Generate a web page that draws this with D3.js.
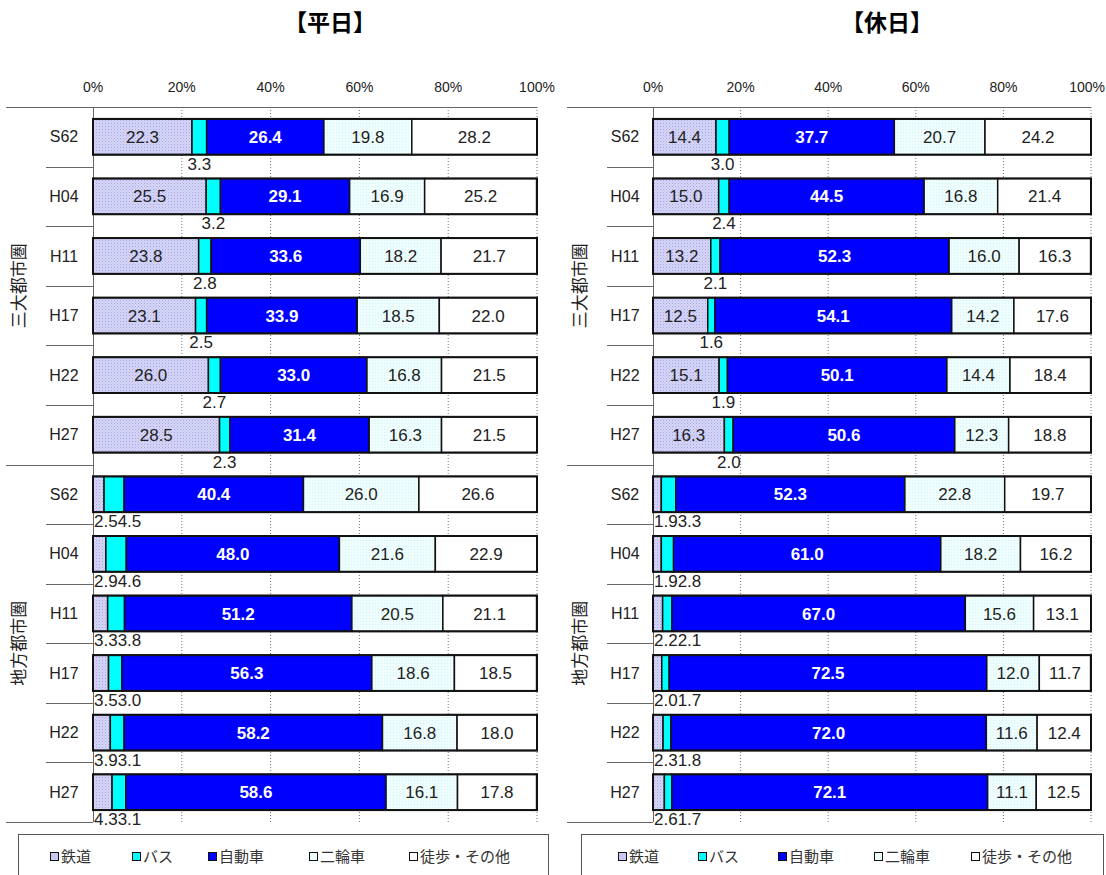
<!DOCTYPE html>
<head>
<meta charset="utf-8">
<title>代表交通手段分担率 平日・休日</title>
<style>
html, body { margin:0; padding:0; background:#fff; }
body { font-family: 'Liberation Sans', Arial, sans-serif; }
.jp { font-family: 'Noto Sans CJK JP', sans-serif; }
.grid { stroke:#777; stroke-dasharray:1,2; }
.rule { stroke:#666; stroke-width:1; }
</style>
</head>
<body>
<svg width="1106" height="875"></svg>
<script src="https://cdn.jsdelivr.net/npm/d3@7"></script>
<script>
var modes   = ["鉄道", "バス", "自動車", "二輪車", "徒歩・その他"];
var years   = ["S62", "H04", "H11", "H17", "H22", "H27"];
var regions = ["三大都市圏", "地方都市圏"];
var ticks   = [0, 20, 40, 60, 80, 100];
var tickLabels = ["0%", "20%", "40%", "60%", "80%", "100%"];
var titles  = ["【平日】", "【休日】"];

// 平日 (weekday) : rail, bus, car, two-wheel, walk/other
var weekdayMetro = [
  [22.3, 3.3, 26.4, 19.8, 28.2],
  [25.5, 3.2, 29.1, 16.9, 25.2],
  [23.8, 2.8, 33.6, 18.2, 21.7],
  [23.1, 2.5, 33.9, 18.5, 22.0],
  [26.0, 2.7, 33.0, 16.8, 21.5],
  [28.5, 2.3, 31.4, 16.3, 21.5]
];
var weekdayLocal = [
  [2.5, 4.5, 40.4, 26.0, 26.6],
  [2.9, 4.6, 48.0, 21.6, 22.9],
  [3.3, 3.8, 51.2, 20.5, 21.1],
  [3.5, 3.0, 56.3, 18.6, 18.5],
  [3.9, 3.1, 58.2, 16.8, 18.0],
  [4.3, 3.1, 58.6, 16.1, 17.8]
];
// 休日 (holiday)
var holidayMetro = [
  [14.4, 3.0, 37.7, 20.7, 24.2],
  [15.0, 2.4, 44.5, 16.8, 21.4],
  [13.2, 2.1, 52.3, 16.0, 16.3],
  [12.5, 1.6, 54.1, 14.2, 17.6],
  [15.1, 1.9, 50.1, 14.4, 18.4],
  [16.3, 2.0, 50.6, 12.3, 18.8]
];
var holidayLocal = [
  [1.9, 3.3, 52.3, 22.8, 19.7],
  [1.9, 2.8, 61.0, 18.2, 16.2],
  [2.2, 2.1, 67.0, 15.6, 13.1],
  [2.0, 1.7, 72.5, 12.0, 11.7],
  [2.3, 1.8, 72.0, 11.6, 12.4],
  [2.6, 1.7, 72.1, 11.1, 12.5]
];

var svg = d3.select("svg");

// fills
var defs = svg.append("defs");
var pr = defs.append("pattern").attr("id", "railPat").attr("width", 3).attr("height", 3)
    .attr("patternUnits", "userSpaceOnUse");
pr.append("rect").attr("width", 3).attr("height", 3).attr("fill", "#d6d6f8");
pr.append("rect").attr("width", 1).attr("height", 1).attr("fill", "#a4a4e4");
pr.append("rect").attr("x", 1.5).attr("y", 1.5).attr("width", 1).attr("height", 1).attr("fill", "#b8b8ec");
var pt = defs.append("pattern").attr("id", "twoPat").attr("width", 3).attr("height", 3)
    .attr("patternUnits", "userSpaceOnUse");
pt.append("rect").attr("width", 3).attr("height", 3).attr("fill", "#eefefe");
pt.append("rect").attr("width", 1).attr("height", 1).attr("fill", "#d8f2f2");

var fills = ["url(#railPat)", "#00ffff", "#0000ff", "url(#twoPat)", "#ffffff"];
var legendFills = ["#c8c8f0", "#00ffff", "#0000ff", "#ecfdfd", "#ffffff"];

var plotTop = 107, plotBottom = 822;

var panels = [
  {title: titles[0], metro: weekdayMetro, local: weekdayLocal,
   x0: 93, x1: 537, catX: 64, groupX: 19, shortX: 46, longX: 6, titleX: 330,
   legX0: 18, legX1: 548, legItems: [50, 132, 208, 309, 409]},
  {title: titles[1], metro: holidayMetro, local: holidayLocal,
   x0: 653, x1: 1091, catX: 625, groupX: 580, shortX: 607, longX: 567, titleX: 887,
   legX0: 581, legX1: 1103, legItems: [618, 698, 778, 874, 971]}
];

panels.forEach(function(p, pi) {
  var g = svg.append("g");
  var rows = [];
  years.forEach(function(yr, i) { rows.push({region: 0, year: yr, vals: p.metro[i]}); });
  years.forEach(function(yr, i) { rows.push({region: 1, year: yr, vals: p.local[i]}); });

  var x = d3.scaleLinear().domain([0, 100]).range([p.x0, p.x1]);
  var y = d3.scaleBand().domain(d3.range(rows.length)).range([plotTop, plotBottom])
      .paddingInner(0.4).paddingOuter(0.2);
  var step = y.step();

  // title
  g.append("text").attr("class", "jp")
    .attr("x", p.titleX).attr("y", 31)
    .attr("text-anchor", "middle")
    .style("font-size", "23px").style("font-weight", "bold")
    .text(p.title);

  // tick labels
  g.selectAll(".tick").data(ticks).enter().append("text")
    .attr("x", function(d) { return x(d); }).attr("y", 92)
    .attr("text-anchor", function(d) { return (pi === 1 && d === 100) ? "end" : "middle"; })
    .attr("dx", function(d) { return (pi === 1 && d === 100) ? 14 : 0; })
    .style("font-size", "14px").style("fill", "#222")
    .text(function(d, i) { return tickLabels[i]; });

  // grid
  g.selectAll(".grid").data(ticks.slice(1)).enter().append("line")
    .attr("class", "grid")
    .attr("x1", function(d) { return x(d); }).attr("x2", function(d) { return x(d); })
    .attr("y1", plotTop).attr("y2", plotBottom);

  // frame rules
  g.append("line").attr("class", "rule")
    .attr("x1", p.longX).attr("x2", p.x1).attr("y1", plotTop + 0.5).attr("y2", plotTop + 0.5);
  g.append("line").attr("class", "rule")
    .attr("x1", p.x0 + 0.5).attr("x2", p.x0 + 0.5).attr("y1", plotTop).attr("y2", plotBottom);

  // row separators on the category side
  d3.range(1, rows.length + 1).forEach(function(i) {
    var yy = Math.round(plotTop + i * step) + 0.5;
    var long = (i === 6 || i === rows.length);
    g.append("line").attr("class", "rule")
      .attr("x1", long ? p.longX : p.shortX).attr("x2", p.x0)
      .attr("y1", yy).attr("y2", yy);
  });

  // region labels (rotated)
  regions.forEach(function(r, k) {
    var cy = (y(k * 6) + y(k * 6 + 5) + y.bandwidth()) / 2;
    g.append("text").attr("class", "jp")
      .attr("transform", "translate(" + p.groupX + "," + cy + ") rotate(-90)")
      .attr("text-anchor", "middle").attr("dy", "0.35em")
      .style("font-size", "17px").style("fill", "#222")
      .text(r);
  });

  // category labels
  g.selectAll(".cat").data(rows).enter().append("text")
    .attr("x", p.catX)
    .attr("y", function(d, i) { return y(i) + y.bandwidth() / 2; })
    .attr("dy", "0.35em").attr("text-anchor", "middle")
    .style("font-size", "16px").style("fill", "#222")
    .text(function(d) { return d.year; });

  // bars
  rows.forEach(function(r, i) {
    var by = y(i), bh = y.bandwidth();
    var cum = 0;
    var segs = r.vals.map(function(v, k) {
      var s = {k: k, v: v, a: cum, b: cum + v};
      cum += v;
      return s;
    });
    var bar = g.append("g");
    bar.selectAll("rect").data(segs).enter().append("rect")
      .attr("x", function(d) { return x(d.a); })
      .attr("y", by)
      .attr("width", function(d) { return x(Math.min(d.b, 100)) - x(d.a); })
      .attr("height", bh)
      .attr("fill", function(d) { return fills[d.k]; })
      .attr("stroke", "#111").attr("stroke-width", 1.5);
    bar.append("rect")
      .attr("x", x(0)).attr("y", by)
      .attr("width", x(100) - x(0)).attr("height", bh)
      .attr("fill", "none").attr("stroke", "#111").attr("stroke-width", 2);

    var below = by + bh + 15;
    var mid = by + bh / 2;
    segs.forEach(function(s) {
      var t = bar.append("text")
        .style("font-size", "17px")
        .style("fill", s.k === 2 ? "#fff" : "#222")
        .style("font-weight", s.k === 2 ? "bold" : "normal")
        .text(s.v.toFixed(1));
      if (s.k === 0 && r.region === 1) {
        t.attr("x", x(0) + 1).attr("y", below).attr("text-anchor", "start");
        s.node = t;
      } else if (s.k === 1 && r.region === 1) {
        var w = segs[0].node.node().getComputedTextLength();
        t.attr("x", x(0) + 1 + w).attr("y", below).attr("text-anchor", "start");
      } else if (s.k === 1) {
        t.attr("x", x((s.a + s.b) / 2)).attr("y", below).attr("text-anchor", "middle");
      } else {
        t.attr("x", x((s.a + s.b) / 2)).attr("y", mid).attr("dy", "0.36em")
          .attr("text-anchor", "middle");
      }
    });
  });

  // legend
  g.append("rect")
    .attr("x", p.legX0 + 0.5).attr("y", 834.5)
    .attr("width", p.legX1 - p.legX0).attr("height", 60)
    .attr("fill", "#fff").attr("stroke", "#555");
  modes.forEach(function(m, k) {
    var lx = p.legItems[k];
    g.append("rect")
      .attr("x", lx + 0.5).attr("y", 852.5).attr("width", 8).attr("height", 8)
      .attr("fill", legendFills[k]).attr("stroke", "#111");
    g.append("text").attr("class", "jp")
      .attr("x", lx + 11).attr("y", 857).attr("dy", "0.35em")
      .style("font-size", "15px").style("fill", "#333")
      .text(m);
  });
});
</script>
</body>
